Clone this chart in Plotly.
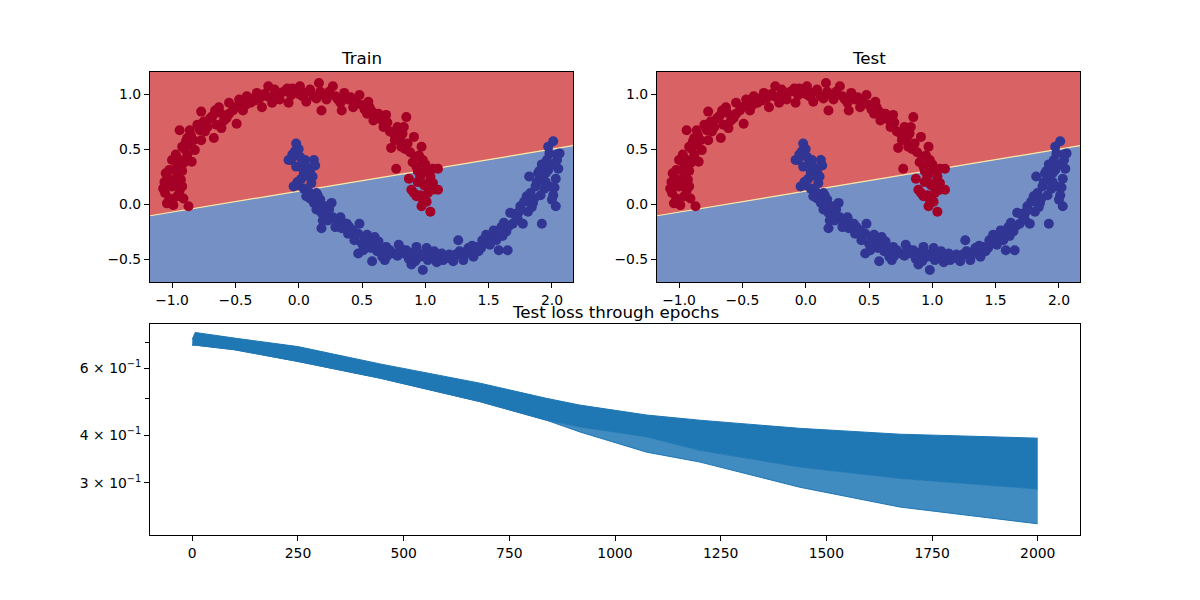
import plotly.graph_objects as go

# ---------------- data ----------------
red_x = [-1.04, -1.055, -1.0, -1.07, -0.96, -0.92, -0.87, -0.99, -0.91, -1.03, -0.96, -1.02, -1.0, -0.94,
         -0.96, -0.91, -0.845, -0.88, -0.92, -0.87, -0.82, -0.94, -0.86, -0.88, -0.83, -0.77, -0.78, -0.75,
         -0.77, -0.70, -0.67, -0.66, -0.65, -0.59, -0.61, -0.55, -0.55, -0.49, -0.52, -0.46, -0.44, -0.41,
         -0.38, -0.33, -0.29, -0.31, -0.24, -0.25, -0.21, -0.17, -0.15, -0.09, -0.08, -0.06, -0.02, 0.01,
         0.05, 0.06, 0.12, 0.16, 0.17, 0.18, 0.22, 0.27, 0.29, 0.33, 0.36, 0.39, 0.34, 0.43, 0.48, 0.50,
         0.54, 0.56, 0.59, 0.63, 0.67, 0.69, 0.72, 0.73, 0.76, 0.78, 0.82, 0.85, 0.81, 0.86, 0.91, 0.77,
         0.87, 0.92, 0.93, 0.97, 0.98, 1.01, 0.96, 0.99, 1.04, 1.06, 1.10, 0.89, 0.93, 0.98, 1.02, 1.06,
         1.10, 0.97, 1.04, 1.06,
         -1.02, -0.94, -0.98, -1.05, -0.92, -0.97, -0.90, -0.85, -0.80, -0.72, -0.68, -0.62, -0.57, -0.50,
         -0.42, -0.36, -0.27, -0.20, -0.12, -0.05, 0.03, 0.09, 0.14, 0.24, 0.31, 0.41, 0.45, 0.52, 0.58,
         0.61, 0.66, 0.70, 0.75, 0.80, 0.84, 0.88, 0.90, 0.95, 1.00, 0.94, 1.02, 0.91, 0.96, 1.01, 0.94,
         -1.06, -0.93, -0.89, -0.74, -0.63, -0.47, -0.35, -0.19, 0.00, 0.20, 0.37, 0.55, 0.68, 0.83, 1.03]
red_y = [0.006, 0.10, 0.16, 0.14, 0.07, 0.16, -0.02, -0.01, 0.05, 0.23, 0.26, 0.31, 0.40, 0.40,
         0.34, 0.37, 0.385, 0.445, 0.52, 0.54, 0.49, 0.67, 0.67, 0.60, 0.58, 0.58, 0.67, 0.75,
         0.84, 0.78, 0.60, 0.85, 0.72, 0.76, 0.69, 0.92, 0.82, 0.73, 0.85, 0.92, 0.85, 0.98,
         0.92, 1.01, 0.88, 0.96, 1.07, 0.98, 0.92, 1.01, 0.95, 1.05, 0.92, 0.99, 1.04, 1.07,
         1.01, 0.93, 0.98, 1.10, 1.02, 0.85, 0.95, 1.07, 0.98, 0.92, 1.01, 0.95, 0.85, 0.88, 0.99, 0.90,
         0.82, 0.88, 0.76, 0.82, 0.70, 0.81, 0.66, 0.51, 0.58, 0.70, 0.64, 0.79, 0.52, 0.55, 0.61, 0.32,
         0.23, 0.43, 0.34, 0.52, 0.40, 0.31, 0.25, 0.17, 0.25, 0.32, 0.32, 0.13, 0.07, 0.04, 0.10, 0.19,
         0.13, -0.02, -0.07, 0.13,
         0.05, 0.12, 0.20, 0.28, 0.30, 0.45, 0.50, 0.62, 0.72, 0.70, 0.80, 0.83, 0.78, 0.88,
         0.90, 0.96, 1.00, 0.98, 1.02, 1.05, 0.98, 1.04, 0.96, 1.02, 0.95, 0.97, 0.92, 0.86, 0.84,
         0.78, 0.76, 0.74, 0.64, 0.60, 0.50, 0.47, 0.38, 0.44, 0.36, 0.20, 0.19, 0.10, 0.08, 0.02, 0.30,
         0.20, 0.22, 0.57, 0.66, 0.88, 0.95, 0.94, 1.04, 1.00, 0.99, 0.98, 0.93, 0.72, 0.70, 0.28]

blue_x = [-0.02, -0.06, -0.08, -0.03, 0.01, 0.05, 0.12, 0.13, -0.02, 0.04, 0.09, 0.02, -0.04, 0.00,
          0.04, 0.10, 0.08, 0.09, 0.14, 0.12, 0.17, 0.14, 0.18, 0.22, 0.26, 0.19, 0.18, 0.23, 0.27,
          0.29, 0.33, 0.34, 0.38, 0.39, 0.43, 0.48, 0.47, 0.44, 0.50, 0.54, 0.56, 0.60, 0.63, 0.47,
          0.51, 0.58, 0.62, 0.66, 0.69, 0.68, 0.75, 0.79, 0.83, 0.87, 0.91, 0.89, 0.93, 0.96, 0.98,
          1.01, 1.02, 1.06, 1.09, 1.13, 1.14, 1.19, 1.22, 1.26, 1.27, 1.30, 1.34, 1.38, 1.37, 1.42,
          1.46, 1.48, 1.51, 1.54, 1.56, 1.58, 1.60, 1.64, 1.65, 1.67, 1.69, 1.72, 1.75, 1.77, 1.80,
          1.81, 1.85, 1.87, 1.89, 1.91, 1.92, 1.93, 1.96, 1.97, 1.98, 2.01, 2.03, 2.04, 2.05, 2.03,
          1.97, 2.01, 2.06, 2.00, 1.82,
          0.00, -0.05, 0.03, 0.07, 0.11, -0.01, 0.06, 0.16, 0.20, 0.24, 0.30, 0.35, 0.40, 0.45, 0.52,
          0.57, 0.61, 0.65, 0.72, 0.78, 0.85, 0.88, 0.94, 0.99, 1.04, 1.10, 1.16, 1.24, 1.31, 1.35,
          1.40, 1.44, 1.50, 1.53, 1.58, 1.62, 1.66, 1.70, 1.74, 1.78, 1.83, 1.86, 1.88, 1.90, 1.94,
          1.95, 1.99, 2.02, 1.92, 2.04, 1.98,
          0.06, 0.15, 0.21, 0.31, 0.41, 0.53, 0.70, 0.81, 0.92, 1.07, 1.18, 1.29, 1.45, 1.61, 1.73, 1.84, 1.95]
blue_y = [0.55, 0.40, 0.40, 0.48, 0.43, 0.40, 0.40, 0.35, 0.34, 0.29, 0.29, 0.23, 0.16, 0.17,
          0.14, 0.19, 0.11, 0.05, 0.10, 0.01, 0.04, -0.05, -0.08, -0.02, 0.01, -0.15, -0.22, -0.15, -0.12,
          -0.21, -0.12, -0.22, -0.18, -0.27, -0.24, -0.18, -0.27, -0.33, -0.36, -0.28, -0.36, -0.30, -0.34, -0.45,
          -0.42, -0.52, -0.43, -0.48, -0.39, -0.51, -0.45, -0.37, -0.45, -0.50, -0.44, -0.55, -0.39, -0.48, -0.60,
          -0.40, -0.51, -0.48, -0.53, -0.45, -0.51, -0.46, -0.52, -0.33, -0.43, -0.51, -0.40, -0.48, -0.38, -0.43,
          -0.36, -0.28, -0.37, -0.24, -0.33, -0.42, -0.21, -0.25, -0.42, -0.08, -0.18, -0.12, -0.02, -0.18, 0.07,
          -0.07, 0.01, 0.16, 0.28, 0.08, -0.18, 0.22, 0.40, 0.31, 0.16, 0.08, -0.02, 0.40, 0.32, 0.23,
          0.52, 0.57, 0.46, 0.04, 0.25,
          0.50, 0.45, 0.37, 0.33, 0.25, 0.20, 0.07, -0.01, -0.10, -0.05, -0.16, -0.17, -0.21, -0.28, -0.32,
          -0.40, -0.37, -0.42, -0.42, -0.47, -0.42, -0.47, -0.44, -0.46, -0.45, -0.47, -0.48, -0.46, -0.44, -0.45,
          -0.39, -0.40, -0.30, -0.32, -0.26, -0.17, -0.20, -0.09, -0.07, 0.02, 0.10, 0.05, 0.20, 0.30, 0.14,
          0.28, 0.35, 0.15, 0.36, 0.45, 0.46,
          0.26, 0.08, -0.06, -0.19, -0.25, -0.38, -0.47, -0.41, -0.52, -0.43, -0.49, -0.47, -0.33, -0.29, -0.14, -0.03, 0.20]

# decision boundary (end points read at the axis edges)
x_range = [-1.174, 2.166]
y_range = [-0.709, 1.2]
boundary_x = [-1.174, 2.166]
boundary_y = [-0.107, 0.530]

# test loss envelope
epochs = [0, 7, 100, 250, 444, 681, 838, 917, 1075, 1201, 1437, 1674, 2000]
loss_upper = [0.715, 0.745, 0.720, 0.684, 0.616, 0.548, 0.500, 0.480, 0.452, 0.438, 0.417, 0.4025, 0.393]
loss_core_lower = [0.690, 0.690, 0.671, 0.625, 0.565, 0.490, 0.438, 0.4205, 0.396, 0.365, 0.330, 0.308, 0.289]
loss_outer_lower = [0.690, 0.690, 0.671, 0.625, 0.565, 0.490, 0.438, 0.408, 0.361, 0.340, 0.292, 0.259, 0.234]

loss_ticks = [0.3, 0.4, 0.6]
loss_ticktext = ["3 × 10<sup>−1</sup>", "4 × 10<sup>−1</sup>", "6 × 10<sup>−1</sup>"]
loss_minor = [0.5, 0.7]
epoch_ticks = [0, 250, 500, 750, 1000, 1250, 1500, 1750, 2000]

# ---------------- styles ----------------
RED_BG = "#d86264"
BLUE_BG = "#7590c4"
RED_PT = "#a50026"
BLUE_PT = "#313695"
LINE = "#1f77b4"
FONT = "DejaVu Sans"

fig = go.Figure()

for xa, ya in [("x", "y"), ("x2", "y2")]:
    fig.add_trace(go.Scatter(
        x=[boundary_x[0], boundary_x[1], x_range[1], x_range[0]],
        y=[boundary_y[0], boundary_y[1], y_range[1], y_range[1]],
        fill="toself", fillcolor=RED_BG, line=dict(width=0), mode="lines",
        hoverinfo="skip", showlegend=False, xaxis=xa, yaxis=ya))
    fig.add_trace(go.Scatter(
        x=[boundary_x[0], boundary_x[1], x_range[1], x_range[0]],
        y=[boundary_y[0], boundary_y[1], y_range[0], y_range[0]],
        fill="toself", fillcolor=BLUE_BG, line=dict(width=0), mode="lines",
        hoverinfo="skip", showlegend=False, xaxis=xa, yaxis=ya))
    fig.add_trace(go.Scatter(
        x=boundary_x, y=boundary_y, mode="lines",
        line=dict(color="#fbe8a6", width=1.2),
        hoverinfo="skip", showlegend=False, xaxis=xa, yaxis=ya))
    fig.add_trace(go.Scatter(
        x=red_x, y=red_y, mode="markers",
        marker=dict(color=RED_PT, size=10, line=dict(width=0)),
        showlegend=False, xaxis=xa, yaxis=ya))
    fig.add_trace(go.Scatter(
        x=blue_x, y=blue_y, mode="markers",
        marker=dict(color=BLUE_PT, size=10, line=dict(width=0)),
        showlegend=False, xaxis=xa, yaxis=ya))

# loss band
fig.add_trace(go.Scatter(x=epochs, y=loss_upper, mode="lines",
                         line=dict(color=LINE, width=1), showlegend=False,
                         xaxis="x3", yaxis="y3"))
fig.add_trace(go.Scatter(x=epochs, y=loss_core_lower, mode="lines",
                         line=dict(color=LINE, width=1), fill="tonexty", fillcolor=LINE,
                         showlegend=False, xaxis="x3", yaxis="y3"))
fig.add_trace(go.Scatter(x=epochs, y=loss_outer_lower, mode="lines",
                         line=dict(color=LINE, width=1), fill="tonexty",
                         fillcolor="rgba(31,119,180,0.85)",
                         showlegend=False, xaxis="x3", yaxis="y3"))

axis_common = dict(showline=True, mirror=True, linecolor="black", linewidth=1.1,
                   ticks="outside", ticklen=5, tickwidth=1.1, tickcolor="black",
                   showgrid=False, zeroline=False,
                   tickfont=dict(family=FONT, size=13.9, color="black"))

top_xticks = [-1.0, -0.5, 0.0, 0.5, 1.0, 1.5, 2.0]
top_yticks = [-0.5, 0.0, 0.5, 1.0]

fig.update_layout(
    width=1200, height=600,
    margin=dict(l=0, r=0, t=0, b=0),
    paper_bgcolor="white", plot_bgcolor="white",
    font=dict(family=FONT, size=13.9, color="black"),
    xaxis=dict(domain=[150 / 1200, 573 / 1200], range=x_range, anchor="y",
               tickvals=top_xticks, tickformat=".1f", **axis_common),
    yaxis=dict(domain=[1 - 282 / 600, 1 - 72 / 600], range=y_range, anchor="x",
               tickvals=top_yticks, tickformat=".1f", **axis_common),
    xaxis2=dict(domain=[657 / 1200, 1080 / 1200], range=x_range, anchor="y2",
                tickvals=top_xticks, tickformat=".1f", **axis_common),
    yaxis2=dict(domain=[1 - 282 / 600, 1 - 72 / 600], range=y_range, anchor="x2",
                tickvals=top_yticks, tickformat=".1f", **axis_common),
    xaxis3=dict(domain=[150 / 1200, 1080 / 1200], range=[-100, 2100], anchor="y3",
                tickvals=epoch_ticks, **axis_common),
    yaxis3=dict(domain=[1 - 535 / 600, 1 - 324 / 600], type="log",
                range=[-0.6602, -0.1056], anchor="x3",
                tickvals=loss_ticks, ticktext=loss_ticktext,
                minor=dict(tickvals=loss_minor, ticklen=4, tickcolor="black",
                           ticks="outside", showgrid=False),
                **axis_common),
    annotations=[
        dict(text="Train", x=361.5 / 1200, y=1 - 58 / 600, xref="paper", yref="paper",
             showarrow=False, xanchor="center", yanchor="middle",
             font=dict(family=FONT, size=16.7, color="black")),
        dict(text="Test", x=868.5 / 1200, y=1 - 58 / 600, xref="paper", yref="paper",
             showarrow=False, xanchor="center", yanchor="middle",
             font=dict(family=FONT, size=16.7, color="black")),
        dict(text="Test loss through epochs", x=615 / 1200, y=1 - 312 / 600,
             xref="paper", yref="paper", showarrow=False,
             xanchor="center", yanchor="middle",
             font=dict(family=FONT, size=16.7, color="black")),
    ],
)

fig.write_html("out.html")
